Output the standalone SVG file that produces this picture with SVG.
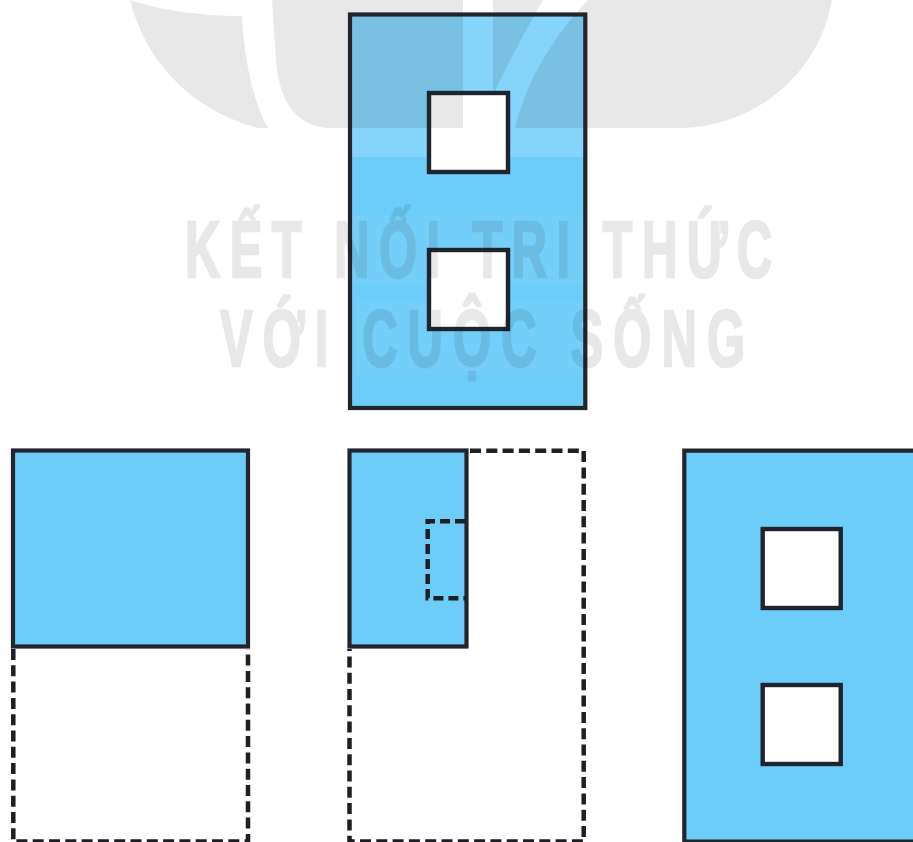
<svg xmlns="http://www.w3.org/2000/svg" width="913" height="842" viewBox="0 0 913 842">
<style>
.blob{fill:#e8e8e8}
.solid{fill:none;stroke:#23252c;stroke-width:4.2}
.hole{fill:none;stroke:#1f2430;stroke-width:4.4}
.dash{fill:none;stroke:#1d1f25;stroke-width:4.500;stroke-dasharray:11 5.3}
.blue{fill:#6ccdf8}
.wm{font-family:"Liberation Sans",Arial,sans-serif;font-weight:700;font-size:79px;fill:#e8e8e8;stroke:#e8e8e8;stroke-width:2.500;mix-blend-mode:multiply}
</style>
<rect width="913" height="842" fill="#fff"/>
<g id="watermark-shapes">
<path class="blob" d="M130,0C160,10 200,16 242,16C244,55 252,100 268,128L258,128C190,110 145,60 130,0Z"/>
<path class="blob" d="M272,0H463V128H332C295,128 279,100 276,60Z"/>
<path class="blob" d="M493,0H543C525,32 507,65 493,95Z"/>
<path class="blob" d="M588,0H832C820,70 760,125 683,128H515C525,85 550,40 588,0Z"/>
</g>
<g id="top-view">
<path d="M350,14.5H585.3V157H350ZM429,93V157H508V93Z" fill="#85d4f9" fill-rule="evenodd" style="mix-blend-mode:multiply"/>
<path class="blue" d="M350,157H585.3V408H350ZM429,157V172H508V157ZM429,250V329H508V250Z" fill-rule="evenodd"/>
<path fill="#74cff8" fill-rule="evenodd" d="M352,216H583V284H352ZM429,250H508V284H429Z"/>
<path fill="#73cff8" fill-rule="evenodd" d="M356,302H583V375H356ZM429,302H508V329H429Z"/>
<rect class="solid" x="350" y="14.5" width="235.3" height="393.5"/>
<rect class="hole" x="429" y="93" width="79" height="79"/>
<rect class="hole" x="429" y="250" width="79" height="79"/>
</g>
<g id="left-view">
<rect class="blue" x="13" y="450.5" width="235" height="196"/>
<rect class="solid" x="13" y="450.5" width="235" height="196"/>
<path class="dash" d="M13.300,649V841.500H248V649"/>
</g>
<g id="middle-view">
<rect class="blue" x="349.500" y="450.500" width="117" height="196"/>
<rect class="solid" x="349.500" y="450.500" width="117" height="196"/>
<path class="dash" d="M470,450.700H583.700V841.500H349.500V649"/>
<path class="dash" style="stroke-dasharray:10 5" d="M465,521.300H427.700V598.300H465"/>
</g>
<g id="right-view">
<path class="blue" fill-rule="evenodd" d="M684.300,450.700H913V842H684.300ZM762.700,529V608H840.700V529ZM762.700,685V764H840.700V685Z"/>
<path class="solid" d="M913,450.700H684.300V841.500H913"/>
<rect class="hole" x="762.700" y="529" width="78" height="79"/>
<rect class="hole" x="762.700" y="685" width="78" height="79"/>
</g>
<g id="watermark-text">
<text class="wm" transform="translate(185,277) scale(.62,1)" textLength="947" lengthAdjust="spacing">KẾT NỐI TRI THỨC</text>
<text class="wm" transform="translate(220,366) scale(.62,1)" textLength="847" lengthAdjust="spacing">VỚI CUỘC SỐNG</text>
</g>
</svg>
